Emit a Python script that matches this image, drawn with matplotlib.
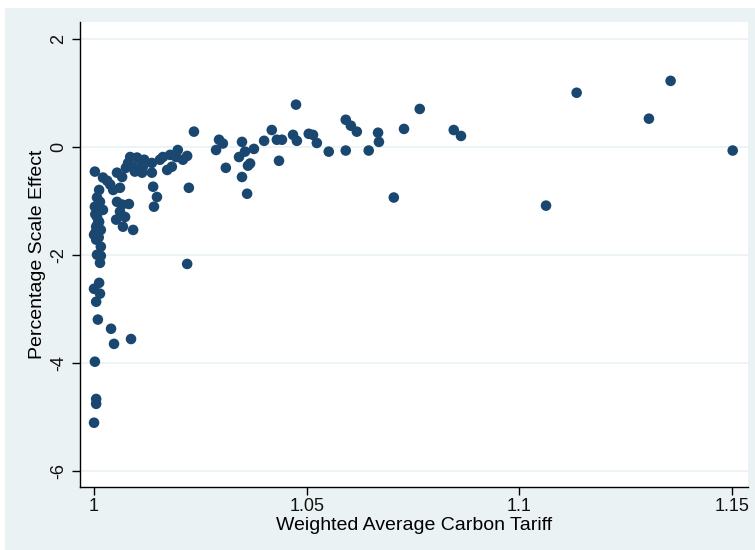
import matplotlib.pyplot as plt
from matplotlib.patches import Rectangle

# weighted average carbon tariff vs percentage scale effect
tariff = [
    1.0000, 1.0005, 1.0005, 1.0002, 1.0009, 1.0005, 1.0014, 1.0000, 1.0012, 1.0014,
    1.0007, 1.0016, 1.0016, 1.0005, 1.0005, 1.0007, 1.0002, 1.0021, 1.0007, 1.0012,
    1.0002, 1.0021, 1.0012, 1.0014, 1.0000, 1.0016,
    1.0031, 1.0038, 1.0045, 1.0061, 1.0054, 1.0066,
    1.0054, 1.0066, 1.0082, 1.0061, 1.0052, 1.0073, 1.0068, 1.0092, 1.0040, 1.0047, 1.0087,
    1.0085, 1.0101, 1.0080, 1.0092, 1.0113, 1.0115, 1.0136, 1.0096, 1.0113, 1.0136,
    1.0139, 1.0148, 1.0141, 1.0118, 1.0106, 1.0075,
    1.0162, 1.0179, 1.0197, 1.0219, 1.0209, 1.0172, 1.0183, 1.0155, 1.0193,
    1.0235, 1.0223, 1.0219,
    1.0294, 1.0303, 1.0287, 1.0310,
    1.0348, 1.0355, 1.0341, 1.0367, 1.0362, 1.0348, 1.0360, 1.0376,
    1.0400, 1.0418, 1.0430, 1.0442, 1.0435, 1.0468, 1.0477, 1.0475,
    1.0505, 1.0515, 1.0524, 1.0552, 1.0592, 1.0604, 1.0618, 1.0592, 1.0646, 1.0668,
    1.0670, 1.0705, 1.0729, 1.0766, 1.0846, 1.0863,
    1.1063, 1.1135, 1.1305, 1.1356, 1.1502,
    1.0003, 1.0009, 1.0004, 1.0011,
]
scale_effect = [
    -5.11, -4.76, -4.67, -3.98, -3.20, -2.87, -2.72, -2.63, -2.52, -2.15,
    -2.00, -2.02, -1.85, -1.72, -1.48, -1.30, -1.11, -1.17, -0.94, -0.80,
    -0.46, -0.57, -1.39, -1.02, -1.63, -1.54,
    -0.63, -0.70, -0.80, -0.76, -0.48, -0.56,
    -1.02, -1.07, -1.06, -1.20, -1.35, -1.30, -1.48, -1.54, -3.37, -3.65, -3.56,
    -0.19, -0.20, -0.30, -0.37, -0.28, -0.37, -0.30, -0.46, -0.48, -0.48,
    -0.74, -0.93, -1.11, -0.24, -0.43, -0.39,
    -0.19, -0.15, -0.06, -0.17, -0.24, -0.43, -0.37, -0.24, -0.19,
    0.28, -0.76, -2.17,
    0.13, 0.06, -0.06, -0.39,
    0.09, -0.09, -0.19, -0.31, -0.35, -0.56, -0.87, -0.04,
    0.11, 0.31, 0.13, 0.13, -0.26, 0.22, 0.11, 0.78,
    0.24, 0.22, 0.07, -0.09, 0.50, 0.39, 0.28, -0.07, -0.07, 0.26,
    0.09, -0.94, 0.33, 0.70, 0.31, 0.20,
    -1.09, 1.00, 0.52, 1.22, -0.07,
    -1.25, -1.42, -1.58, -1.68,
]

x_ticks = [1, 1.05, 1.1, 1.15]
x_tick_labels = ['1', '1.05', '1.1', '1.15']
y_ticks = [-6, -4, -2, 0, 2]

plt.rcParams['font.family'] = ['Liberation Sans', 'DejaVu Sans']

fig = plt.figure(figsize=(7.55, 5.5), dpi=100)
fig.patch.set_facecolor('white')
# stata-like outer background
bg = Rectangle((5 / 755, 0), 750 / 755, 542 / 550, transform=fig.transFigure,
               facecolor='#eaf2f3', edgecolor='none', zorder=-10)
fig.add_artist(bg)

ax = fig.add_axes([80 / 755, 1 - 487 / 550, 668 / 755, 465 / 550])
ax.set_zorder(5)
ax.set_facecolor('white')

ax.scatter(tariff, scale_effect, s=58, color='#1a476f', edgecolors='none', zorder=3)

ax.set_xlim(0.9967, 1.1538)
ax.set_ylim(-6.30, 2.31)
ax.set_xticks(x_ticks)
ax.set_xticklabels(x_tick_labels)
ax.set_yticks(y_ticks)
ax.set_yticklabels([str(v) for v in y_ticks], rotation=90, va='center')

ax.grid(axis='y', color='#eaf2f3', linewidth=1.2, zorder=1)
ax.set_axisbelow(True)
for side in ['top', 'right']:
    ax.spines[side].set_visible(False)
for side in ['left', 'bottom']:
    ax.spines[side].set_color('black')
    ax.spines[side].set_linewidth(1.0)

ax.tick_params(axis='both', direction='out', length=6, width=1, labelsize=13,
               color='black', labelcolor='#111111')
ax.tick_params(axis='y', pad=3)
ax.tick_params(axis='x', pad=2)

ax.set_xlabel('Weighted Average Carbon Tariff', fontsize=14, labelpad=1)
ax.set_ylabel('Percentage Scale Effect', fontsize=14, labelpad=3)

fig.savefig('out.png', dpi=100, facecolor=fig.get_facecolor())
